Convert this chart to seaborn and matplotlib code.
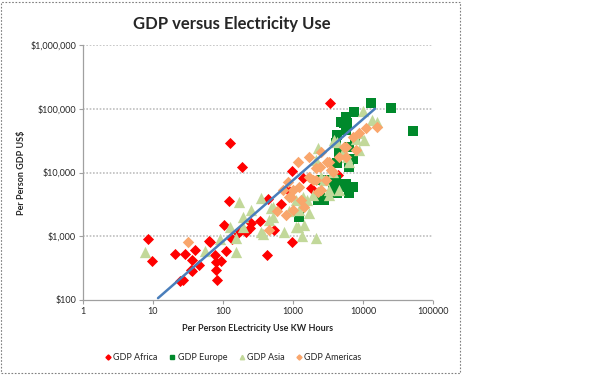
import matplotlib as mpl

mpl.use('Agg')
import pandas as pd
import matplotlib.pyplot as plt
import seaborn as sns
from matplotlib.patches import Rectangle
from matplotlib.lines import Line2D

# values (kWh per person, GDP per person US$)
africa_kwh = [3400, 124, 188, 970, 121, 840, 437, 676, 333, 253, 215, 163, 105, 135,
              8.4, 9.7, 20.4, 29, 40, 66, 109, 76, 95, 80, 36.6, 46, 36.6, 80, 27, 24,
              82, 427, 970, 1400, 530, 1800, 4450, 6300, 35, 183, 240, 64]
africa_gdp = [124000, 29400, 12000, 10700, 3600, 5300, 3900, 3200, 1750, 1590, 1180, 1110,
              1500, 895, 915, 410, 520, 520, 610, 800, 590, 510, 410, 400, 425, 354, 285,
              295, 206, 200, 205, 510, 800, 8200, 1260, 5800, 9300, 6000, 295, 1260, 1360, 830]

europe_kwh = [13000, 24900, 51000, 7400, 6000, 5700, 4300, 4100, 6400, 4300, 6400, 4100,
              5100, 7100, 4300, 2800, 2250, 1230, 3300, 2500, 3700, 6400, 7800, 5700, 4900,
              7100, 4600, 4100, 2400, 5700, 5400]
europe_gdp = [124000, 102000, 45000, 88000, 59000, 46000, 39000, 29000, 25500, 14000, 12300,
              7700, 6000, 6000, 4700, 3700, 3700, 2000, 7700, 7700, 6700, 4700, 32000, 75000,
              63000, 16500, 20000, 5300, 4000, 6700, 59000]

asia_kwh = [7.6, 172, 350, 253, 195, 124, 195, 155, 90, 155, 56, 350, 460, 750, 490, 510,
            1100, 1360, 2140, 1700, 1230, 2250, 3300, 510, 370, 1450, 1900, 2800, 3300, 3700,
            6300, 8900, 10500, 9900, 13500, 15900, 5100, 4300, 7900, 2140, 2500, 1600, 1100,
            890, 1370, 8900, 6000, 3800, 4600, 1160]
asia_gdp = [570, 3500, 3950, 2600, 2000, 1400, 1400, 930, 890, 570, 590, 1180, 1800, 1180,
            2730, 2000, 1400, 1000, 930, 2300, 2600, 24000, 4400, 2900, 1100, 1500, 4400, 7700,
            5300, 10200, 14800, 22500, 32000, 93000, 66000, 63000, 21300, 30000, 34000, 15800,
            8600, 3700, 3700, 2450, 4200, 41000, 17700, 32000, 5300, 1400]

americas_kwh = [31.6, 1160, 850, 1230, 940, 1300, 600, 800, 460, 2140, 3300, 1900, 1700,
                3700, 4600, 5700, 2950, 2500, 890, 710, 1000, 1450, 2400, 3100, 5400, 7900,
                7100, 11000, 15900, 2250, 1000, 2140, 5700, 3500, 1700, 2500, 8900]
americas_gdp = [800, 14800, 7200, 6000, 4200, 3700, 2450, 2150, 1260, 11600, 14800, 7700,
                8600, 10300, 17800, 25500, 7700, 5300, 4200, 5300, 5300, 2900, 12300, 14800,
                25500, 22500, 36000, 49000, 52000, 5000, 2600, 7700, 17800, 11000, 17800,
                21300, 41000]

# trendline end points
trend_kwh = [11.8, 14800]
trend_gdp = [107, 100000]

x_ticks = [1, 10, 100, 1000, 10000, 100000]
x_labels = ['1', '10', '100', '1000', '10000', '100000']
y_ticks = [100, 1000, 10000, 100000, 1000000]
y_labels = ['$100', '$1,000', '$10,000', '$100,000', '$1,000,000']

series = ['GDP Africa', 'GDP Europe', 'GDP Asia', 'GDP Americas']
colors = {'GDP Africa': '#FF0000', 'GDP Europe': '#00892B',
          'GDP Asia': '#C2D89A', 'GDP Americas': '#F9A66C'}
markers = {'GDP Africa': 'D', 'GDP Europe': 's', 'GDP Asia': '^', 'GDP Americas': 'D'}
sizes = {'GDP Africa': 32, 'GDP Europe': 60, 'GDP Asia': 66, 'GDP Americas': 34}

df = pd.concat([
    pd.DataFrame({'kwh': africa_kwh, 'gdp': africa_gdp, 'region': 'GDP Africa'}),
    pd.DataFrame({'kwh': europe_kwh, 'gdp': europe_gdp, 'region': 'GDP Europe'}),
    pd.DataFrame({'kwh': asia_kwh, 'gdp': asia_gdp, 'region': 'GDP Asia'}),
    pd.DataFrame({'kwh': americas_kwh, 'gdp': americas_gdp, 'region': 'GDP Americas'}),
], ignore_index=True)

sns.set_style('white')
plt.rcParams['font.family'] = ['Lato', 'DejaVu Sans']

fig = plt.figure(figsize=(6.02, 3.75), dpi=100)
ax = fig.add_axes([83 / 602, 1 - 300 / 375, 350 / 602, 255 / 375])

# outer chart frame
fig.patches.append(Rectangle((1 / 602, 2 / 375), 459 / 602, 371 / 375, transform=fig.transFigure,
                             fill=False, edgecolor='#7F7F7F', lw=0.8, ls=(0, (1.5, 1.5))))

ax.set_xscale('log')
ax.set_yscale('log')
ax.set_xlim(1, 100000)
ax.set_ylim(100, 1000000)

for y in y_ticks[1:]:
    ax.axhline(y, color='#BFBFBF', lw=1.2, ls=(0, (1, 1)), zorder=0)

for i, name in enumerate(series):
    sub = df[df['region'] == name]
    sns.scatterplot(data=sub, x='kwh', y='gdp', color=colors[name], marker=markers[name],
                    s=sizes[name], linewidth=0, alpha=1, legend=False, ax=ax, zorder=3 + i * 0.1)

ax.plot(trend_kwh, trend_gdp, color='#4A7EBB', lw=1.8, zorder=4)

ax.set_xticks(x_ticks)
ax.set_xticklabels(x_labels, fontsize=6.5)
ax.set_yticks(y_ticks)
ax.set_yticklabels(y_labels, fontsize=6.5)
ax.minorticks_off()
ax.tick_params(axis='both', which='major', direction='out', length=3, width=0.8,
               color='#A0A0A0', pad=2, bottom=True, left=True)

ax.set_xlabel('Per Person ELectricity Use KW Hours', fontsize=6.5, fontweight='bold', labelpad=6)
ax.set_ylabel('Per Person GDP US$', fontsize=6.5, fontweight='bold', labelpad=3)
fig.text(232 / 602, 1 - 24 / 375, 'GDP versus Electricity Use', ha='center', va='center',
         fontsize=12, fontweight='bold')

for side in ['top', 'right']:
    ax.spines[side].set_visible(False)
ax.spines['left'].set_color('#A0A0A0')
ax.spines['left'].set_linewidth(0.9)
ax.spines['bottom'].set_color('#A0A0A0')
ax.spines['bottom'].set_linewidth(0.9)
ax.spines['bottom'].set_linestyle((0, (1, 1)))

handles = [Line2D([], [], ls='', marker=markers[n], color=colors[n],
                  markersize=3.2 if markers[n] != 'D' else 2.6) for n in series]
fig.legend(handles, series, loc='center', bbox_to_anchor=(233 / 602, 1 - 358 / 375), ncol=4,
           frameon=False, fontsize=6.5, handletextpad=0.2, columnspacing=1.2, handlelength=0.8)

plt.savefig('out.png', dpi=100)
